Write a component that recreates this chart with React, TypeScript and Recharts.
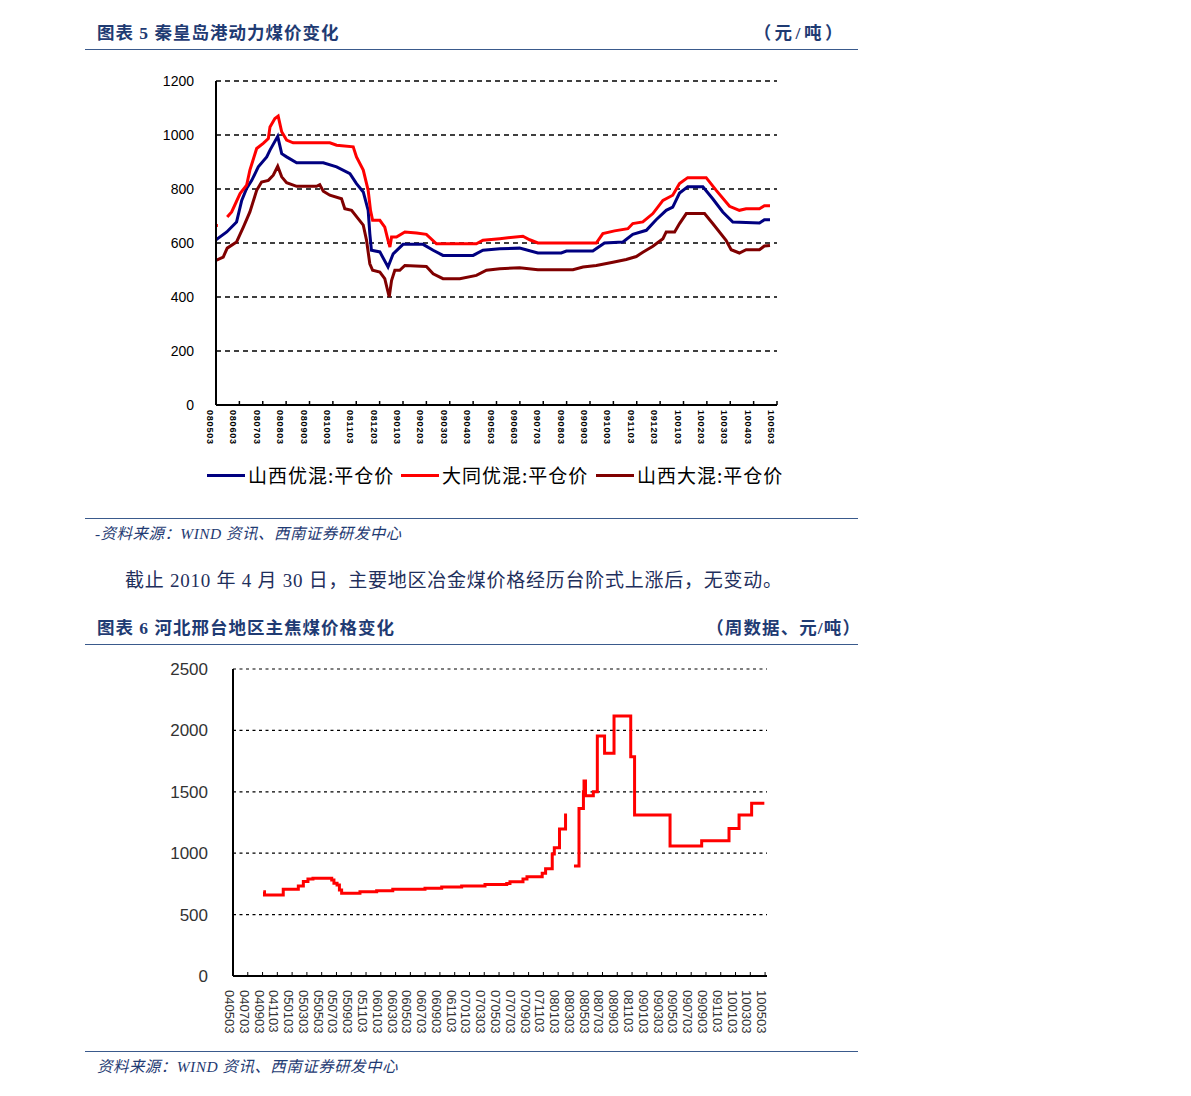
import React from 'react';
import { LineChart, Line, XAxis, YAxis, CartesianGrid } from 'recharts';

// ---------- Chart 5: 秦皇岛港动力煤价 ----------
const coalMonthLabels = [
  '080503', '080603', '080703', '080803', '080903', '081003', '081103', '081203',
  '090103', '090203', '090303', '090403', '090503', '090603', '090703', '090803',
  '090903', '091003', '091103', '091203', '100103', '100203', '100303', '100403', '100503',
];
const coalYTicks = [0, 200, 400, 600, 800, 1000, 1200];

// 山西优混:平仓价 (months since 080503, value)
const shanxiYouT = [0, 0.46, 0.88, 1.10, 1.31, 1.53, 1.81, 2.17, 2.31, 2.64, 2.81, 3.02, 3.45, 4.59, 5.16, 5.73, 6.01, 6.30, 6.51, 6.58, 6.65, 7.01, 7.36, 7.58, 8.00, 8.86, 9.29, 9.71, 11.0, 11.42, 12.14, 12.99, 13.77, 14.77, 14.99, 16.12, 16.62, 17.41, 17.83, 18.41, 18.83, 19.26, 19.54, 19.83, 20.18, 20.83, 21.25, 21.68, 22.11, 23.25, 23.46, 23.70];
const shanxiYouV = [612, 641, 678, 758, 802, 832, 882, 919, 944, 995, 931, 919, 897, 897, 882, 857, 820, 789, 721, 635, 573, 567, 511, 560, 595, 595, 573, 554, 554, 573, 579, 581, 563, 563, 570, 570, 600, 604, 632, 647, 686, 721, 733, 785, 808, 808, 764, 715, 678, 674, 686, 686];

// 大同优混:平仓价
const datongYouT = [0, 0.08, 0.2, 0.48, 0.67, 1.03, 1.31, 1.45, 1.74, 2.02, 2.24, 2.31, 2.52, 2.66, 2.81, 3.02, 3.30, 4.87, 5.16, 5.87, 6.01, 6.30, 6.51, 6.61, 6.70, 7.01, 7.22, 7.36, 7.44, 7.51, 7.72, 8.08, 8.58, 9.00, 9.43, 11.14, 11.42, 12.14, 13.13, 13.42, 13.77, 16.27, 16.55, 17.05, 17.62, 17.83, 18.26, 18.69, 19.12, 19.54, 19.83, 20.18, 20.97, 21.40, 21.97, 22.39, 22.68, 23.25, 23.46, 23.70];
const datongYouV = [665, 665, null, 696, 715, 783, 814, 870, 950, 969, 987, 1030, 1061, 1070, 1012, 981, 971, 971, 962, 956, 919, 870, 795, 721, 684, 684, 659, 610, 585, 622, 622, 641, 637, 632, 597, 597, 610, 616, 625, 612, 600, 600, 635, 645, 653, 672, 678, 709, 758, 777, 820, 842, 842, 795, 736, 721, 727, 727, 738, 738];

// 山西大混:平仓价
const shanxiDaT = [0, 0.31, 0.48, 0.88, 1.17, 1.45, 1.74, 1.95, 2.24, 2.45, 2.64, 2.81, 3.02, 3.45, 4.30, 4.44, 4.59, 4.87, 5.37, 5.51, 5.80, 6.08, 6.30, 6.44, 6.58, 6.70, 7.01, 7.22, 7.41, 7.51, 7.65, 7.86, 8.08, 9.00, 9.29, 9.71, 10.43, 11.14, 11.57, 12.14, 12.99, 13.77, 15.27, 15.70, 16.27, 16.98, 17.55, 17.98, 18.26, 18.69, 19.12, 19.26, 19.62, 19.83, 20.12, 20.90, 21.25, 21.82, 22.04, 22.39, 22.68, 23.25, 23.46, 23.70];
const shanxiDaV = [536, 548, 581, 604, 659, 715, 795, 826, 832, 851, 884, 845, 823, 810, 810, 816, 792, 777, 764, 727, 721, 690, 666, 610, 523, 499, 492, 468, 400, 461, 499, 499, 517, 513, 486, 468, 468, 480, 499, 505, 508, 501, 501, 511, 517, 529, 539, 550, 566, 588, 616, 641, 641, 672, 709, 709, 672, 610, 575, 563, 575, 575, 589, 591];

// ---------- Chart 6: 河北邢台主焦煤 ----------
const cokingLabels = [
  '040503', '040703', '040903', '041103',
  '050103', '050303', '050503', '050703', '050903', '051103',
  '060103', '060303', '060503', '060703', '060903', '061103',
  '070103', '070303', '070503', '070703', '070903', '071103',
  '080103', '080303', '080503', '080703', '080903', '081103',
  '090103', '090303', '090503', '090703', '090903', '091103',
  '100103', '100303', '100503',
];
const cokingYTicks = [0, 500, 1000, 1500, 2000, 2500];
// bimonthly index since 040503, value
const xingtaiT = [2.05, 2.13, 3.40, 4.42, 4.76, 5.07, 5.41, 6.68, 6.83, 7.04, 7.20, 7.35, 8.59, 9.72, 10.81, 12.99, 14.12, 15.47, 17.05, 18.52, 18.74, 19.62, 19.89, 20.92, 21.15, 21.60, 21.74, 22.09, 22.50, 22.60, 22.80, 23.07, 23.41, 23.71, 23.75, 23.85, 24.38, 24.65, 25.14, 25.78, 26.91, 27.17, 29.57, 31.71, 33.56, 34.24, 35.09, 35.95];
const xingtaiV = [687, 660, 706, 733, 770, 790, 795, 782, 755, 741, 700, 673, 687, 695, 706, 714, 725, 733, 746, 754, 768, 790, 809, 836, 874, 993, 1045, 1197, 1311, 1311, null, 896, 1365, 1501, 1588, 1468, 1501, 1954, 1813, 2117, 1786, 1311, 1058, 1102, 1202, 1311, 1406, 1406];

const zip = (t: number[], v: (number | null)[]) => t.map((x, i) => ({ t: x, v: v[i] }));
const shanxiYouData = zip(shanxiYouT, shanxiYouV);
const datongYouData = zip(datongYouT, datongYouV);
const shanxiDaData = zip(shanxiDaT, shanxiDaV);
const xingtaiData = zip(xingtaiT, xingtaiV);

const coalXTicks = coalMonthLabels.map((_, i) => i);
const cokingXTicks = cokingLabels.map((_, i) => i);

const NAVY = '#1F3B73';
const RULE = '#3A5A8C';
const CJK_SERIF = '"Liberation Serif", "Noto Sans CJK SC", serif';
const CJK_SANS = '"Noto Sans CJK SC", sans-serif';

const CoalXTick = (props: any) => {
  const { x, y, payload } = props;
  return (
    <g>
      <line x1={x} y1={y} x2={x} y2={y - 4} stroke="#000" strokeWidth={1.5} />
      <text
        transform={`translate(${x - 6},${y + 5}) rotate(90)`}
        textAnchor="start"
        dominantBaseline="central"
        fontSize={9}
        fontWeight="bold"
        letterSpacing={0.8}
        fontFamily='"Liberation Sans", Arial, sans-serif'
        fill="#000"
      >
        {coalMonthLabels[payload.value]}
      </text>
    </g>
  );
};

const CokingXTick = (props: any) => {
  const { x, y, payload } = props;
  return (
    <g>
      {payload.value > 0 && <line x1={x} y1={y} x2={x} y2={y - 4} stroke="#000" strokeWidth={1} />}
      <text
        transform={`translate(${x - 3.5},${y + 14}) rotate(90)`}
        textAnchor="start"
        dominantBaseline="central"
        fontSize={13}
        fontFamily='"Liberation Sans", Arial, sans-serif'
        fill="#333"
      >
        {cokingLabels[payload.value]}
      </text>
    </g>
  );
};

const abs = (style: React.CSSProperties): React.CSSProperties => ({ position: 'absolute', ...style });

const Rule = ({ top }: { top: number }) => (
  <div style={abs({ left: 85, top, width: 773, height: 1.5, background: RULE })} />
);

const titleStyle: React.CSSProperties = {
  fontFamily: CJK_SERIF,
  fontSize: 17.5,
  fontWeight: 'bold',
  letterSpacing: 1,
  color: NAVY,
  lineHeight: '24px',
  whiteSpace: 'nowrap',
};

const legendItems = [
  { name: '山西优混:平仓价', color: '#000080', left: 207 },
  { name: '大同优混:平仓价', color: '#FF0000', left: 401 },
  { name: '山西大混:平仓价', color: '#800000', left: 596 },
];

export default function App() {
  return (
    <div style={abs({ left: 0, top: 0, width: 1191, height: 1096, background: '#fff', overflow: 'hidden' })}>
      {/* Chart 5 header */}
      <div style={abs({ ...titleStyle, left: 97, top: 21 })}>图表 5 秦皇岛港动力煤价变化</div>
      <div style={abs({ ...titleStyle, right: 345, top: 21, letterSpacing: 3.5 })}>（元/吨）</div>
      <Rule top={48.5} />

      <div style={abs({ left: 0, top: 0 })}>
        <LineChart width={800} height={460} margin={{ top: 81, right: 23, bottom: 5, left: 156 }}>
          <CartesianGrid vertical={false} stroke="#000" strokeDasharray="5 4" strokeWidth={1.3} />
          <XAxis
            dataKey="t"
            type="number"
            domain={[0, 24]}
            ticks={coalXTicks}
            interval={0}
            height={50}
            tickSize={0}
            tickMargin={0}
            tickLine={false}
            axisLine={{ stroke: '#000', strokeWidth: 2 }}
            tick={<CoalXTick />}
            allowDataOverflow
          />
          <YAxis
            type="number"
            domain={[0, 1200]}
            ticks={coalYTicks}
            width={60}
            tickSize={0}
            tickMargin={22}
            tickLine={false}
            axisLine={{ stroke: '#000', strokeWidth: 2 }}
            tick={{ fontSize: 14, fill: '#000', fontFamily: '"Liberation Sans", Arial, sans-serif' }}
          />
          <Line data={shanxiYouData} dataKey="v" type="linear" stroke="#000080" strokeWidth={3} dot={false} isAnimationActive={false} connectNulls={false} />
          <Line data={datongYouData} dataKey="v" type="linear" stroke="#FF0000" strokeWidth={3} dot={false} isAnimationActive={false} connectNulls={false} />
          <Line data={shanxiDaData} dataKey="v" type="linear" stroke="#800000" strokeWidth={3} dot={false} isAnimationActive={false} connectNulls={false} />
        </LineChart>
      </div>

      {/* Chart 5 legend */}
      {legendItems.map((it) => (
        <div key={it.name} style={abs({ left: it.left, top: 461, height: 28, display: 'flex', alignItems: 'center', whiteSpace: 'nowrap' })}>
          <span style={{ display: 'inline-block', width: 38, height: 3, background: it.color, marginRight: 3 }} />
          <span style={{ fontFamily: CJK_SANS, fontSize: 19, letterSpacing: 1.0, color: '#000', lineHeight: '28px' }}>{it.name}</span>
        </div>
      ))}

      <Rule top={517.5} />
      <div style={abs({ left: 95, top: 524, fontFamily: CJK_SERIF, fontStyle: 'italic', fontSize: 15.5, letterSpacing: 0.45, color: NAVY, lineHeight: '20px', whiteSpace: 'nowrap' })}>
        -资料来源：WIND 资讯、西南证券研发中心
      </div>

      <div style={abs({ left: 125, top: 568, fontFamily: CJK_SERIF, fontSize: 19, letterSpacing: 0.75, color: '#1F2F5C', lineHeight: '26px', whiteSpace: 'nowrap' })}>
        截止 2010 年 4 月 30 日，主要地区冶金煤价格经历台阶式上涨后，无变动。
      </div>

      {/* Chart 6 header */}
      <div style={abs({ ...titleStyle, left: 97, top: 616 })}>图表 6 河北邢台地区主焦煤价格变化</div>
      <div style={abs({ ...titleStyle, right: 330, top: 616, letterSpacing: 1.1 })}>（周数据、元/吨）</div>
      <Rule top={643.5} />

      <div style={abs({ left: 0, top: 600 })}>
        <LineChart width={800} height={450} margin={{ top: 69, right: 33, bottom: 14, left: 173 }}>
          <CartesianGrid vertical={false} stroke="#000" strokeDasharray="3 3.5" strokeWidth={1.2} />
          <XAxis
            dataKey="t"
            type="number"
            domain={[0, 36.13]}
            ticks={cokingXTicks}
            interval={0}
            height={60}
            tickSize={0}
            tickMargin={0}
            tickLine={false}
            axisLine={{ stroke: '#000', strokeWidth: 2 }}
            tick={<CokingXTick />}
            allowDataOverflow
          />
          <YAxis
            type="number"
            domain={[0, 2500]}
            ticks={cokingYTicks}
            width={60}
            tickSize={0}
            tickMargin={25}
            tickLine={false}
            axisLine={{ stroke: '#000', strokeWidth: 2 }}
            tick={{ fontSize: 17, fill: '#333', fontFamily: '"Liberation Sans", Arial, sans-serif' }}
          />
          <Line data={xingtaiData} dataKey="v" type="stepAfter" stroke="#FF0000" strokeWidth={3} dot={false} isAnimationActive={false} connectNulls={false} />
        </LineChart>
      </div>

      <Rule top={1050.5} />
      <div style={abs({ left: 97, top: 1057, fontFamily: CJK_SERIF, fontStyle: 'italic', fontSize: 15.5, letterSpacing: 0.45, color: NAVY, lineHeight: '20px', whiteSpace: 'nowrap' })}>
        资料来源：WIND 资讯、西南证券研发中心
      </div>
    </div>
  );
}
